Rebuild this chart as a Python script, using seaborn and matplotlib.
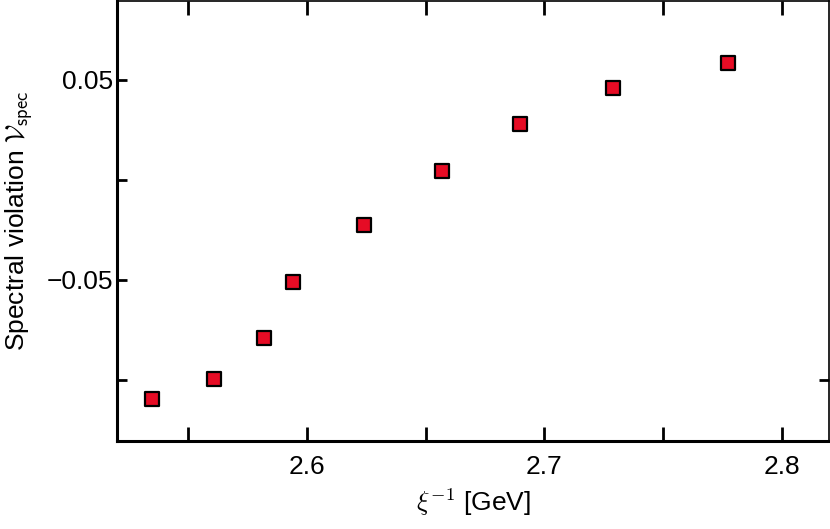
import matplotlib
matplotlib.use("Agg")
import matplotlib.pyplot as plt
import seaborn as sns
import pandas as pd

# -----------------------------------
# DATA
# -----------------------------------

inv_xi = [2.5346, 2.5610, 2.5821, 2.5940, 2.6239, 2.6571, 2.6900, 2.7290, 2.7776]
v_spec = [-0.1095, -0.0997, -0.0790, -0.0512, -0.0225, 0.0047, 0.0280, 0.0460, 0.0584]

x_ticks = [2.55, 2.6, 2.65, 2.7, 2.75, 2.8]
x_tick_labels = ["", "2.6", "", "2.7", "", "2.8"]
y_ticks = [-0.1, -0.05, 0.0, 0.05]
y_tick_labels = ["", "\u22120.05", "", "0.05"]

df = pd.DataFrame({"inv_xi": inv_xi, "v_spec": v_spec})

# -----------------------------------
# STYLE
# -----------------------------------

sns.set_style("ticks")
plt.rcParams["font.family"] = ["Liberation Sans", "DejaVu Sans"]
plt.rcParams["mathtext.fontset"] = "cm"
plt.rcParams["text.color"] = "black"
plt.rcParams["axes.labelcolor"] = "black"
plt.rcParams["xtick.color"] = "black"
plt.rcParams["ytick.color"] = "black"
plt.rcParams["axes.edgecolor"] = "black"

fig = plt.figure(figsize=(8.3, 5.29), dpi=100)
ax = fig.add_axes([117 / 830, 88 / 529, 712 / 830, 440 / 529])

sns.scatterplot(
    data=df, x="inv_xi", y="v_spec", ax=ax,
    marker="s", s=95, color="#e60c25",
    edgecolor="black", linewidth=1.6, zorder=3
)

ax.set_xlim(2.52, 2.82)
ax.set_ylim(-0.1305, 0.0895)

ax.set_xticks(x_ticks)
ax.set_xticklabels(x_tick_labels)
ax.set_yticks(y_ticks)
ax.set_yticklabels(y_tick_labels)

ax.tick_params(axis="x", direction="in", length=10, width=2,
               top=True, bottom=True, labelsize=19, pad=10)
ax.tick_params(axis="y", direction="in", length=7.5, width=2,
               left=True, right=True, labelsize=19, pad=3)

# right side only keeps the lowest tick
for tick, val in zip(ax.yaxis.get_major_ticks(), y_ticks):
    tick.tick2line.set_visible(abs(val + 0.1) < 1e-9)

for side in ["left", "bottom"]:
    ax.spines[side].set_linewidth(2.2)
for side in ["top", "right"]:
    ax.spines[side].set_linewidth(1.2)
    ax.spines[side].set_visible(True)

ax.set_xlabel(r"$\xi^{\mathsf{-1}}$ [GeV]", fontsize=19, labelpad=5)
ax.set_ylabel(r"Spectral violation $\mathcal{V}_{\mathsf{spec}}$", fontsize=19)
ax.yaxis.set_label_coords(-0.115, 0.5)

fig.savefig("out.png", dpi=100)
